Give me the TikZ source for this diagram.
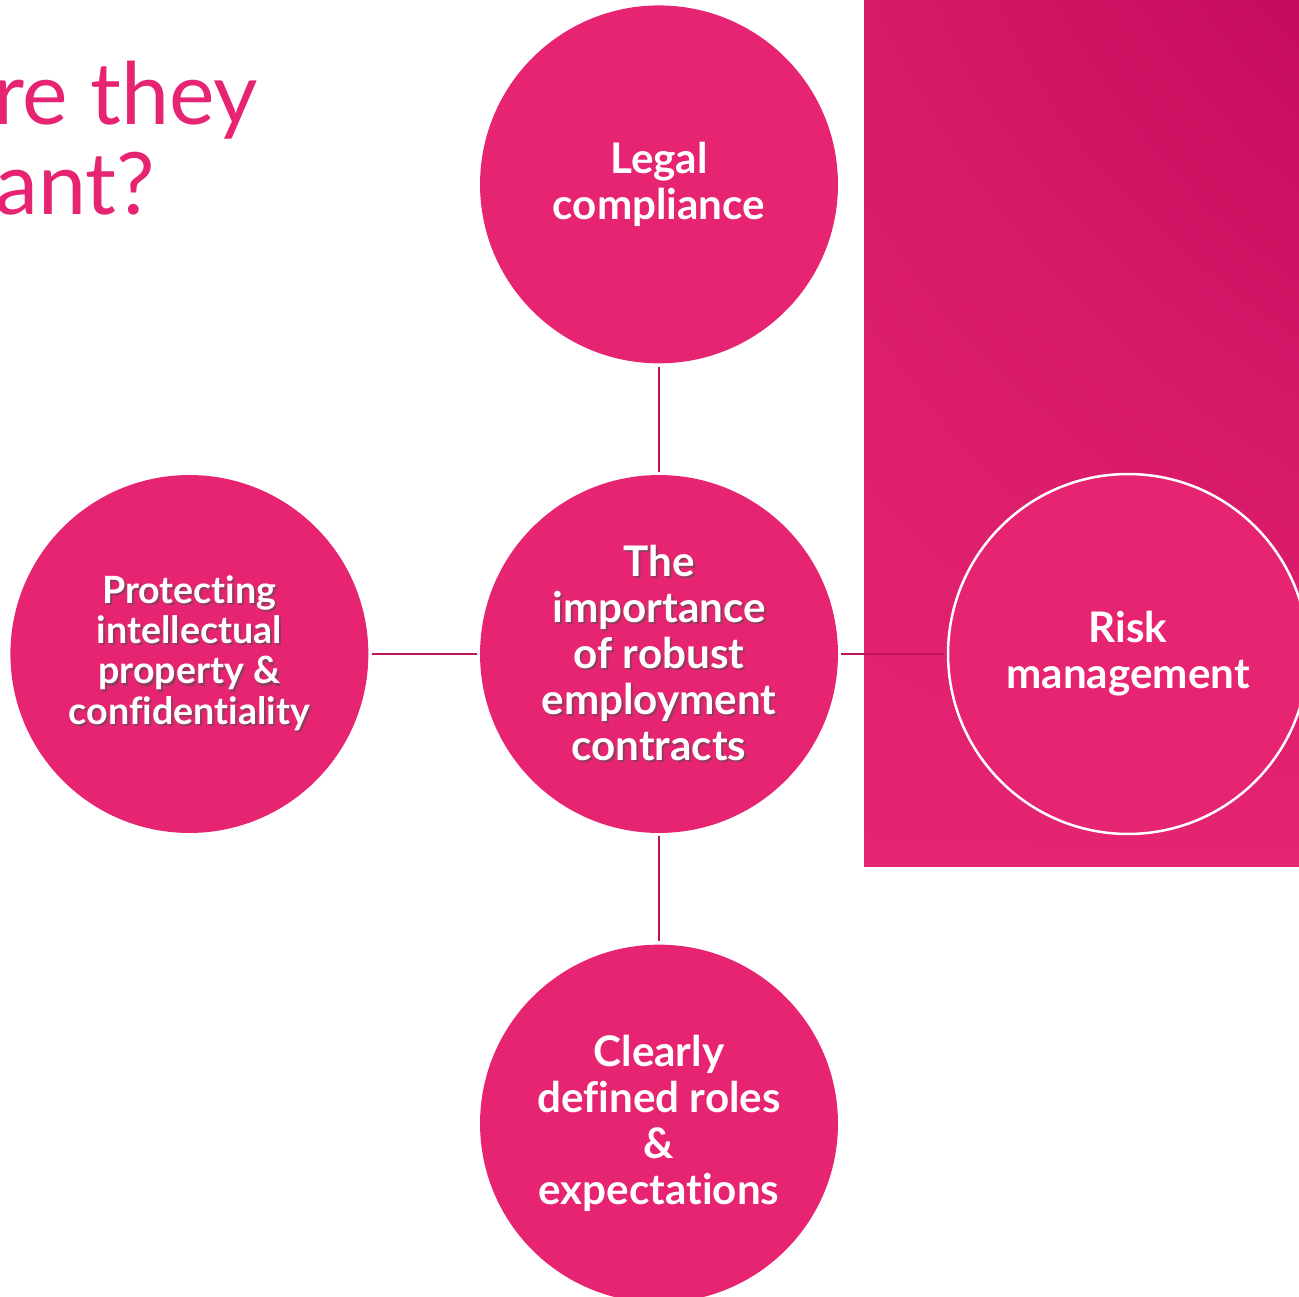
\documentclass[tikz,border=0pt]{standalone}
\usepackage{fontspec}
\setmainfont{Lato}[Ligatures=NoCommon]
\usetikzlibrary{positioning, shadings}
\definecolor{blobpink}{RGB}{230,36,114}
\definecolor{linkpink}{RGB}{188,22,90}
\definecolor{panellight}{RGB}{229,36,114}
\definecolor{panelmid}{RGB}{214,26,104}
\definecolor{paneldark}{RGB}{197,11,93}
\definecolor{shadowpink}{RGB}{120,10,55}
\newcommand\shd[1]{\leavevmode\rlap{\kern0.04cm\raisebox{-0.045cm}{\color{shadowpink!80}#1}}#1}

\begin{document}
\begin{tikzpicture}[x=0.02cm, y=-0.02cm, node distance=2.22cm,
blob/.style={circle, fill=blobpink, minimum size=7.16cm, inner sep=0pt,
text=white, align=center, font=\bfseries\fontsize{24}{26.2}\selectfont},
ring/.style={blob, draw=white, line width=0.05cm, minimum size=7.2cm},
link/.style={draw=linkpink, line width=0.045cm, shorten <=0.06cm, shorten >=0.06cm},
title/.style={text=blobpink, inner sep=0pt, anchor=base west,
font=\fontsize{49}{51}\selectfont}
]
\useasboundingbox (0,0) rectangle (1299,1297);

% Panel
\shade[upper right=paneldark, upper left=panelmid, lower left=panellight,
lower right=panellight] (864,0) rectangle (1299,866);

% Title
\node[title] (title1) at (-7,125) {re they};
\node[title] (title2) at (-5,215) {ant?};

% Circles
\node[blob] (centre) at (659,654)
{\shd{The}\\\shd{importance}\\\shd{of robust}\\\shd{employment}\\\shd{contracts}};
\node[blob, above=of centre] (legal) {Legal\\compliance};
\node[blob, left=of centre, font=\bfseries\fontsize{21.4}{22.9}\selectfont] (ip)
{\shd{Protecting}\\\shd{intellectual}\\\shd{property \&}\\\shd{confidentiality}};
\node[ring, right=2.17cm of centre] (risk) {Risk\\management};
\node[blob, below=of centre] (roles) {Clearly\\defined roles\\\&\\expectations};

% Links
\draw[link] (legal) -- (centre);
\draw[link] (ip) -- (centre);
\draw[link] (centre) -- (risk);
\draw[link] (centre) -- (roles);

\end{tikzpicture}
\end{document}
